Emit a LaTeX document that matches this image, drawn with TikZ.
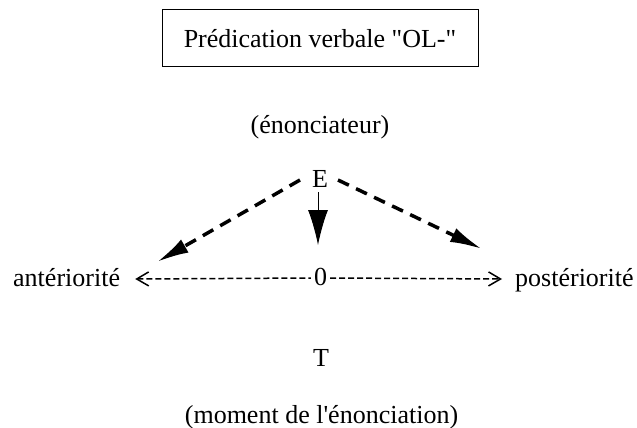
\documentclass[tikz,border=0pt]{standalone}
\usepackage{fontspec}
\setmainfont{Liberation Serif}[Ligatures=TeXOff]
\usetikzlibrary{arrows.meta}
\begin{document}
\begin{tikzpicture}[x=1pt,y=-1pt,
  lbl/.style={font=\fontsize{26}{30}\selectfont, inner sep=0pt, anchor=base},
  titlebox/.style={draw, line width=1pt, inner sep=0pt, minimum width=316pt, minimum height=57pt, font=\fontsize{26}{30}\selectfont},
  thickdash/.style={line width=3.5pt, dash pattern=on 12pt off 8pt, -{Latex[length=32pt,width=15pt]}},
  downarrow/.style={line width=1pt, -{Latex[length=35pt,width=20pt]}},
  hline/.style={line width=1.5pt, dash pattern=on 6pt off 3pt}
]
\useasboundingbox (0,0) rectangle (637,428);
\node[titlebox] (title) at (320,38.5) {Prédication verbale "OL-"};
\node[lbl] (enon) at (320,133) {(énonciateur)};
\node[lbl] (E) at (320,187) {E};
\node[lbl] (zero) at (320.5,285) {0};
\node[lbl, anchor=base west] (ant) at (13,286) {antériorité};
\node[lbl, anchor=base west] (post) at (515,286) {postériorité};
\node[lbl] (T) at (321,366) {T};
\node[lbl] (moment) at (321.5,423) {(moment de l'énonciation)};
\coordinate (ls) at (300,180);
\coordinate (lt) at (157,262);
\coordinate (rs) at (338,180);
\coordinate (rt) at (482,249);
\coordinate (ds) at (318,192);
\coordinate (dt) at (318,245);
\draw[thickdash] (ls) -- (lt);
\draw[thickdash] (rs) -- (rt);
\draw[downarrow] (ds) -- (dt);
\draw[hline, {Straight Barb[length=12pt,width=14pt]}-] ([shift={(15,-7)}]ant.base east) -- ([shift={(-3,-7)}]zero.base west);
\draw[hline, -{Straight Barb[length=12pt,width=14pt]}] ([shift={(3,-7)}]zero.base east) -- ([shift={(-13,-7)}]post.base west);
\end{tikzpicture}
\end{document}
